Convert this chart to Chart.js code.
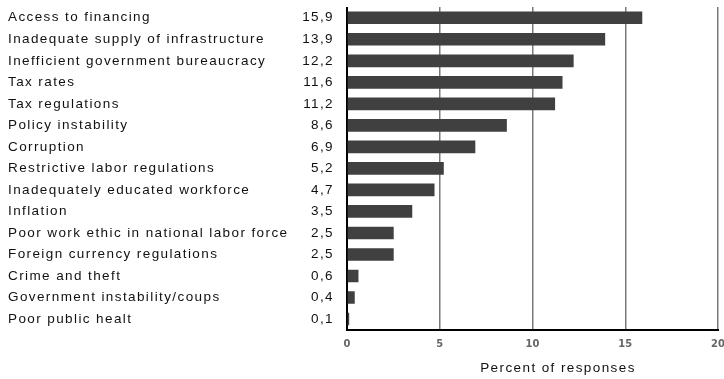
<!DOCTYPE html>
<html>
<head>
<meta charset="utf-8">
<script src="https://cdn.jsdelivr.net/npm/chart.js@4"></script>
<style>
  html, body { margin: 0; padding: 0; background: #fff; }
  #wrap { width: 724px; height: 379px; }
</style>
</head>
<body>
<div id="wrap"><canvas id="chart" width="724" height="379"></canvas></div>
<script>
// 数据
const categories = [
  'Access to financing',
  'Inadequate supply of infrastructure',
  'Inefficient government bureaucracy',
  'Tax rates',
  'Tax regulations',
  'Policy instability',
  'Corruption',
  'Restrictive labor regulations',
  'Inadequately educated workforce',
  'Inflation',
  'Poor work ethic in national labor force',
  'Foreign currency regulations',
  'Crime and theft',
  'Government instability/coups',
  'Poor public healt'
];
const values = [15.9, 13.9, 12.2, 11.6, 11.2, 8.6, 6.9, 5.2, 4.7, 3.5, 2.5, 2.5, 0.6, 0.4, 0.1];
const xTicks = [0, 5, 10, 15, 20];
const axisTitle = 'Percent of responses';

// 左侧标签和数值
const sideLabels = {
  id: 'sideLabels',
  afterDraw(chart) {
    const ctx = chart.ctx;
    const meta = chart.getDatasetMeta(0);
    ctx.save();
    ctx.font = '13.5px "Liberation Sans", Arial, sans-serif';
    ctx.fillStyle = '#111';
    ctx.textBaseline = 'middle';
    if ('letterSpacing' in ctx) ctx.letterSpacing = '1.4px';
    meta.data.forEach((bar, i) => {
      ctx.textAlign = 'left';
      ctx.fillText(categories[i], 8, bar.y);
      ctx.textAlign = 'right';
      ctx.fillText(values[i].toFixed(1).replace('.', ','), 334, bar.y);
    });
    // 坐标轴标题
    ctx.textAlign = 'center';
    ctx.fillText(axisTitle, 558, 368);
    ctx.restore();
  }
};

new Chart(document.getElementById('chart'), {
  type: 'bar',
  data: {
    labels: categories,
    datasets: [{
      data: values,
      backgroundColor: '#404040',
      borderWidth: 0,
      barThickness: 12
    }]
  },
  options: {
    indexAxis: 'y',
    responsive: false,
    animation: false,
    layout: { padding: { left: 347, top: 7, bottom: 20, right: 0 } },
    plugins: { legend: { display: false }, tooltip: { enabled: false } },
    scales: {
      x: {
        min: xTicks[0],
        max: xTicks[xTicks.length - 1],
        afterBuildTicks: axis => { axis.ticks = xTicks.map(v => ({ value: v })); },
        afterFit: axis => { axis.paddingRight = 6; },
        grid: {
          drawTicks: false,
          color: c => (c.tick && c.tick.value === 0 ? '#000' : '#7a7a7a'),
          lineWidth: c => (c.tick && c.tick.value === 0 ? 2 : 1.5)
        },
        border: { display: true, color: '#000', width: 2 },
        ticks: {
          padding: 8,
          color: '#666',
          font: { family: '"Liberation Sans Narrow", "DejaVu Sans Condensed", sans-serif', size: 11, weight: 'bold' }
        }
      },
      y: { display: false }
    }
  },
  plugins: [sideLabels]
});
</script>
</body>
</html>
